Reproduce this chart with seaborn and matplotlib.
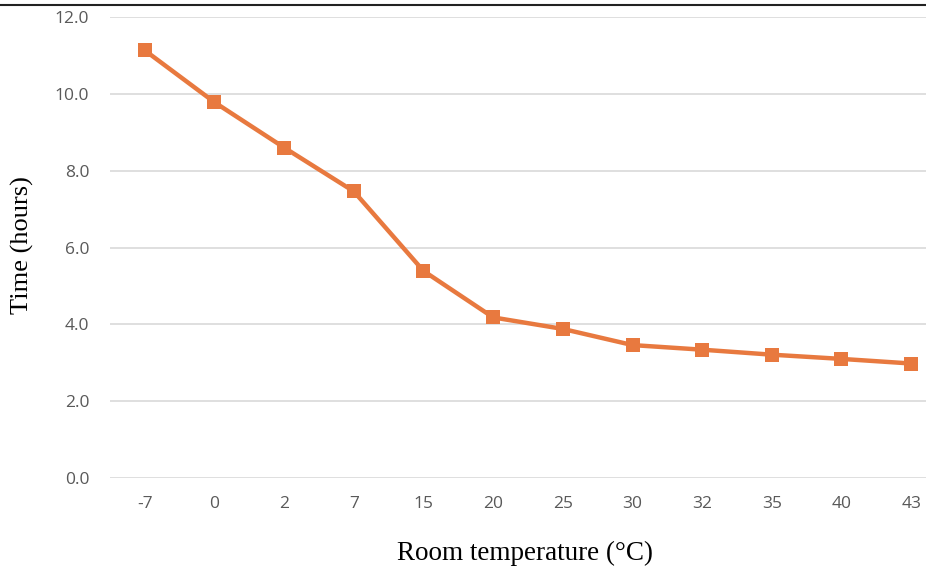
import pandas as pd
import seaborn as sns
import matplotlib.pyplot as plt
from matplotlib.lines import Line2D

# values
temps = ['-7', '0', '2', '7', '15', '20', '25', '30', '32', '35', '40', '43']
hours = [11.13, 9.78, 8.6, 7.46, 5.39, 4.18, 3.88, 3.46, 3.34, 3.21, 3.1, 2.98]
y_ticks = [0, 2, 4, 6, 8, 10, 12]

df = pd.DataFrame({'Temp': temps, 'Hours': hours})

sns.set_style('white')
plt.rcParams['font.family'] = ['Open Sans', 'DejaVu Sans']

fig = plt.figure(figsize=(9.26, 5.72), dpi=100)
# plot area runs a little past the right edge, as in the cropped original
ax = fig.add_axes([110 / 926, 1 - 478 / 572, 836 / 926, (478 - 17) / 572])

ax.set_axisbelow(True)
ax.yaxis.grid(True, color='#D9D9D9', linewidth=1.2)
ax.xaxis.grid(False)

sns.lineplot(data=df, x='Temp', y='Hours', ax=ax, color='#E8793F',
             linewidth=3.2, marker='s', markersize=10, markeredgewidth=0,
             sort=False)

ax.set_xlim(-0.5, len(temps) - 0.5)
ax.set_ylim(0, 12)
ax.set_yticks(y_ticks)
ax.set_yticklabels([f'{v:.1f}' for v in y_ticks])
ax.set_xticks(range(len(temps)))
ax.set_xticklabels(temps)

for s in ax.spines.values():
    s.set_visible(False)
ax.tick_params(axis='both', length=0, labelsize=12.5, labelcolor='#595959')
ax.tick_params(axis='y', pad=15)
ax.tick_params(axis='x', pad=13)

ax.set_xlabel('')
ax.set_ylabel('')
fig.text(525 / 926, 1 - 553 / 572, 'Room temperature (°C)', ha='center', va='center',
         fontsize=19.5, family='Liberation Serif', color='black')
fig.text(22 / 926, 1 - 245 / 572, 'Time (hours)', ha='center', va='center',
         rotation=90, fontsize=19, family='Liberation Serif', color='black')

# dark rule across the top
fig.add_artist(Line2D([0, 1], [1 - 5 / 572, 1 - 5 / 572], color='#222222',
                      linewidth=1.5, transform=fig.transFigure))

fig.savefig('out.png', dpi=100)
